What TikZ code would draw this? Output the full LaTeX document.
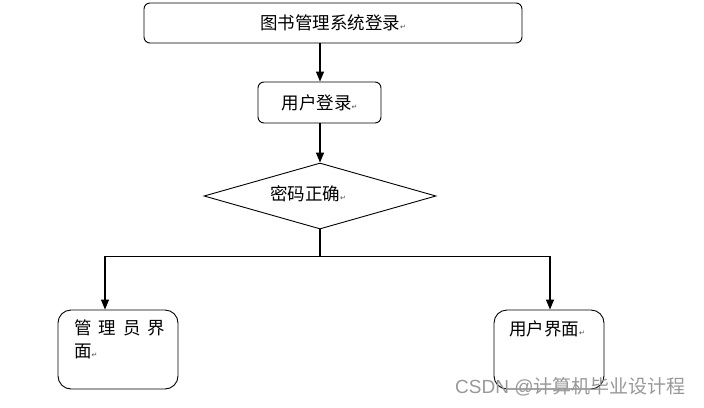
\documentclass[tikz,border=0pt]{standalone}
\usepackage{fontspec}
\setmainfont{Liberation Serif}
\newfontfamily\cjk{Noto Sans CJK SC}
\newfontfamily\dejavu{DejaVu Sans}
\usetikzlibrary{shapes.geometric,arrows.meta}
\newcommand{\retmark}{{\dejavu\fontsize{7}{7}\selectfont\color{black!70}↵}}
\begin{document}
\begin{tikzpicture}[x=1pt,y=-1pt,
  every node/.style={font=\cjk\fontsize{17.5}{22}\selectfont},
  boxA/.style={draw,line width=0.9pt,rounded corners=6pt,inner sep=0pt},
  boxB/.style={draw,line width=0.9pt,rounded corners=13pt,inner sep=0pt},
  conn/.style={line width=1.2pt},
  arr/.style={conn,-{Triangle[length=10pt,width=8pt]}}]
\useasboundingbox (0,0) rectangle (704,407);
\fill[white] (0,0) rectangle (704,407);
\node[boxA,minimum width=378pt,minimum height=40pt] (b1) at (333,23) {图书管理系统登录\retmark};
\node[boxA,minimum width=123pt,minimum height=41pt] (b2) at (319.5,102.5) {用户登录\retmark};
\node[draw,diamond,line width=0.9pt,minimum width=232pt,minimum height=66pt,inner sep=0pt] (d) at (320,196) {};
\node (dt) at (308,194) {密码正确\retmark};
\node[boxB,minimum width=120pt,minimum height=79pt] (l) at (118,349.5) {};
\node[boxB,minimum width=110pt,minimum height=79pt] (r) at (549,349.5) {};
\node[anchor=north west,align=left,inner sep=0pt] (lt) at (74,320) {管\hspace{7pt}理\hspace{7pt}员\hspace{7pt}界\\[1pt]面\retmark};
\node[anchor=north west,inner sep=0pt] (rt) at (509,321) {用户界面\retmark};
\coordinate (j) at (320,256);
\coordinate (jl) at (105,256);
\coordinate (jr) at (550,256);
\draw[arr] (b1.south -| j) -- (b2.north -| j);
\draw[arr] (b2.south -| j) -- (d.north);
\draw[conn] (d.south) -- (j);
\draw[line width=1pt] (jl) -- (jr);
\draw[arr] (jl) -- (jl |- l.north);
\draw[arr] (jr) -- (jr |- r.north);
\node[font=\fontspec{Liberation Sans}\fontsize{19}{19}\selectfont,text=black!40,anchor=west,inner sep=0pt] (wm) at (455,387) {CSDN @{\cjk 计算机毕业设计程}};
\end{tikzpicture}
\end{document}
